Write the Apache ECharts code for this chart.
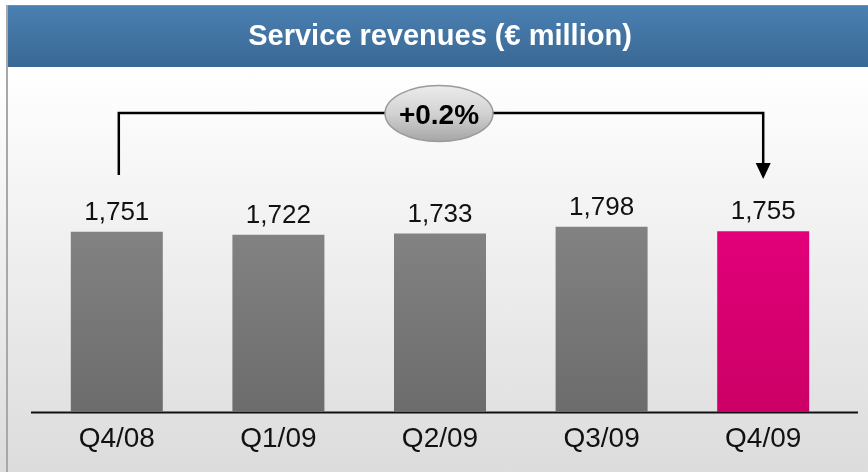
<!DOCTYPE html>
<html>
<head>
<meta charset="utf-8">
<script src="https://cdn.jsdelivr.net/npm/echarts@6/dist/echarts.min.js"></script>
<style>
  html, body { margin: 0; padding: 0; background: #ffffff; }
  #chart {
    width: 868px; height: 472px;
    background: linear-gradient(to bottom, #ffffff 0px, #ffffff 70px, #dcdcdc 472px);
  }
</style>
</head>
<body>
<div id="chart"></div>
<script>
var categories = ['Q4/08', 'Q1/09', 'Q2/09', 'Q3/09', 'Q4/09'];
var revenues = [1751, 1722, 1733, 1798, 1755];
var changeLabel = '+0.2%';

var grayBar = new echarts.graphic.LinearGradient(0, 0, 0, 1, [
    { offset: 0, color: '#828282' },
    { offset: 1, color: '#6c6c6c' }
]);
var pinkBar = new echarts.graphic.LinearGradient(0, 0, 0, 1, [
    { offset: 0, color: '#e2007a' },
    { offset: 1, color: '#cc0066' }
]);

var myChart = echarts.init(document.getElementById('chart'));
var option = {
    animation: false,
    grid: { left: 36, right: 24, top: 206, bottom: 60 },
    xAxis: {
        type: 'category',
        data: categories,
        axisTick: { show: false },
        axisLine: { show: false },
        axisLabel: {
            color: '#111',
            fontFamily: 'Liberation Sans',
            fontSize: 28,
            margin: 13
        }
    },
    yAxis: {
        type: 'value',
        min: 0,
        max: 2000,
        show: false
    },
    series: [{
        type: 'bar',
        barWidth: 92,
        data: revenues.map(function (v, i) {
            return {
                value: v,
                itemStyle: { color: i === revenues.length - 1 ? pinkBar : grayBar }
            };
        }),
        label: {
            show: true,
            position: 'top',
            distance: 6,
            color: '#111',
            fontFamily: 'Liberation Sans',
            fontSize: 26,
            formatter: function (p) {
                return p.value.toLocaleString('en-US');
            }
        }
    }]
};
myChart.setOption(option);

// header, frame, baseline and growth bracket
var x0 = myChart.convertToPixel({ xAxisIndex: 0 }, categories[0]);
var x1 = myChart.convertToPixel({ xAxisIndex: 0 }, categories[categories.length - 1]);
var yBase = myChart.convertToPixel({ yAxisIndex: 0 }, 0);
var yTop = 113;
var midX = (x0 + x1) / 2 - 1;

myChart.setOption({
    graphic: [
        {
            type: 'rect',
            shape: { x: 6, y: 5, width: 862, height: 62 },
            style: {
                fill: new echarts.graphic.LinearGradient(0, 0, 0, 1, [
                    { offset: 0, color: '#4a80b2' },
                    { offset: 1, color: '#3a6894' }
                ]),
                stroke: null
            }
        },
        {
            type: 'line',
            shape: { x1: 6, y1: 5.5, x2: 868, y2: 5.5 },
            style: { stroke: '#7d8c9c', lineWidth: 1 }
        },
        {
            type: 'line',
            shape: { x1: 7, y1: 5, x2: 7, y2: 472 },
            style: { stroke: '#a8a8a8', lineWidth: 2 }
        },
        {
            type: 'text',
            x: 440,
            y: 37,
            style: {
                text: 'Service revenues (€ million)',
                fill: '#ffffff',
                font: 'bold 29px "Liberation Sans"',
                align: 'center',
                verticalAlign: 'middle'
            }
        },
        {
            type: 'line',
            shape: { x1: 31, y1: yBase + 0.5, x2: 858, y2: yBase + 0.5 },
            style: { stroke: '#111', lineWidth: 2 }
        },
        {
            type: 'polyline',
            shape: { points: [[x0 + 2, 175], [x0 + 2, yTop], [x1, yTop], [x1, 165]] },
            style: { stroke: '#000', lineWidth: 2.5, fill: null }
        },
        {
            type: 'polygon',
            shape: { points: [[x1 - 7.5, 163], [x1 + 7.5, 163], [x1, 179]] },
            style: { fill: '#000' }
        },
        {
            type: 'ellipse',
            shape: { cx: midX, cy: 113.5, rx: 54, ry: 28 },
            style: {
                fill: new echarts.graphic.LinearGradient(0, 0, 0, 1, [
                    { offset: 0, color: '#ececec' },
                    { offset: 0.5, color: '#d2d2d2' },
                    { offset: 1, color: '#a4a4a4' }
                ]),
                stroke: '#9a9a9a',
                lineWidth: 1.5
            }
        },
        {
            type: 'text',
            x: midX,
            y: 116,
            style: {
                text: changeLabel,
                fill: '#000',
                font: 'bold 28px "Liberation Sans"',
                align: 'center',
                verticalAlign: 'middle'
            }
        }
    ]
});
</script>
</body>
</html>
